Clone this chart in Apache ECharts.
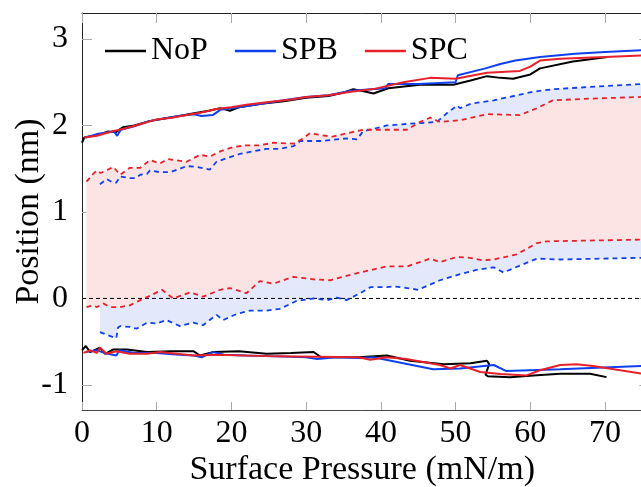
<!DOCTYPE html>
<html>
<head>
<meta charset="utf-8">
<script src="https://cdn.jsdelivr.net/npm/echarts@6/dist/echarts.min.js"></script>
<style>html,body{margin:0;padding:0;background:#fff;}#c{width:641px;height:487px;}</style>
</head>
<body>
<div id="c"></div>
<script>
var xTicks = [0,10,20,30,40,50,60,70];
var yTicks = [-1,0,1,2,3];
var zeroLine = [[0,0],[75,0]];

var nopUpper = [[0,1.80],[0.3,1.86],[1.5,1.88],[2.5,1.90],[3.5,1.93],[4.5,1.92],[5.5,1.98],[7,2.00],[9,2.05],[11,2.08],[13,2.11],[15,2.14],[17,2.17],[18.5,2.20],[19.8,2.17],[21,2.21],[24,2.25],[27,2.28],[30,2.32],[33,2.34],[35,2.38],[36.3,2.42],[38,2.39],[39,2.37],[41,2.43],[45.2,2.47],[49.7,2.47],[52,2.52],[54.2,2.57],[56,2.55],[57.7,2.54],[60,2.59],[61.3,2.66],[65.7,2.74],[70.3,2.79]];
var spbUpper = [[0.5,1.86],[2,1.90],[3.5,1.92],[4.3,1.93],[4.7,1.88],[5.2,1.95],[7,1.99],[9,2.05],[11,2.08],[13,2.11],[15,2.13],[16,2.11],[17.5,2.12],[18.5,2.18],[21,2.21],[24,2.25],[27,2.29],[30,2.33],[33,2.35],[36,2.40],[40.6,2.43],[41,2.48],[45,2.48],[50,2.50],[50.3,2.58],[54,2.66],[56,2.71],[58,2.75],[61.3,2.79],[66,2.83],[70,2.85],[75,2.87]];
var spcUpper = [[0.3,1.86],[2,1.88],[4,1.93],[6,1.97],[8,2.02],[10,2.07],[12,2.09],[14,2.12],[16,2.15],[18,2.19],[20,2.21],[22,2.24],[25,2.27],[28,2.30],[30,2.33],[33,2.35],[36,2.39],[39,2.42],[43,2.50],[46.6,2.55],[50,2.54],[54.2,2.61],[58.6,2.63],[60,2.68],[61.3,2.75],[64,2.77],[70,2.79],[75,2.81]];

var nopLower = [[0,-0.60],[0.5,-0.55],[1.1,-0.62],[2.4,-0.57],[3.1,-0.64],[4.2,-0.59],[6,-0.59],[8.7,-0.62],[12,-0.61],[14.9,-0.61],[15.8,-0.66],[17.6,-0.62],[21,-0.61],[24.7,-0.64],[28,-0.63],[31,-0.62],[32,-0.68],[37,-0.68],[40.8,-0.66],[43.9,-0.72],[48.4,-0.76],[52,-0.75],[54.2,-0.72],[54.5,-0.76],[54.0,-0.88],[54.3,-0.90],[57.3,-0.91],[60.4,-0.89],[64,-0.87],[68,-0.87],[70.2,-0.91]];
var spbLower = [[0.5,-0.62],[2,-0.60],[3,-0.63],[4.6,-0.66],[5,-0.60],[7,-0.63],[10,-0.63],[13,-0.65],[15,-0.66],[16,-0.68],[17.5,-0.62],[19,-0.65],[22,-0.66],[26,-0.67],[30,-0.68],[31.5,-0.70],[34,-0.68],[37,-0.69],[39,-0.68],[43,-0.75],[47,-0.82],[50.6,-0.81],[55.1,-0.77],[56.8,-0.84],[64,-0.82],[75,-0.78]];
var spcLower = [[0.2,-0.63],[1.1,-0.60],[2,-0.63],[2.4,-0.57],[3.3,-0.64],[4.6,-0.61],[6.4,-0.64],[8.7,-0.64],[10.5,-0.62],[14.9,-0.66],[18,-0.65],[26,-0.67],[37,-0.68],[38.6,-0.71],[40.8,-0.68],[43.4,-0.70],[47.9,-0.77],[49.3,-0.81],[50.6,-0.77],[53.3,-0.85],[56,-0.875],[59.5,-0.89],[61.3,-0.83],[64,-0.77],[66.2,-0.76],[68.4,-0.78],[75,-0.87]];

var spcDashUpper = [[0.6,1.35],[1.5,1.44],[2,1.48],[2.5,1.45],[4.2,1.52],[5.1,1.43],[6.4,1.51],[7.8,1.51],[9.1,1.60],[10.4,1.56],[11.5,1.61],[14,1.58],[15.8,1.66],[17.1,1.64],[18.5,1.70],[20.2,1.75],[22,1.77],[23.8,1.77],[25.6,1.80],[28.3,1.79],[29.2,1.83],[30.5,1.91],[31.9,1.89],[33.5,1.87],[35,1.90],[37.6,1.95],[43.5,1.95],[45.2,2.04],[46.6,2.09],[47.9,2.04],[50.6,2.06],[54.2,2.13],[58.6,2.12],[60.9,2.20],[63,2.29],[68,2.31],[75,2.33]];
var spcDashLower = [[0.6,-0.10],[1.5,-0.08],[2,-0.10],[2.9,-0.06],[3.7,-0.10],[5.1,-0.10],[6.4,-0.08],[7.8,-0.02],[9.1,0.03],[10.7,0.10],[12.2,0.0],[14.5,0.07],[16.2,0.02],[18.5,0.10],[19.8,0.12],[22,0.06],[23.8,0.20],[25.6,0.17],[28.3,0.25],[31,0.22],[33.2,0.21],[35.4,0.26],[37.2,0.30],[40.8,0.37],[43.5,0.37],[46.6,0.46],[47.9,0.42],[50.2,0.48],[51.9,0.47],[53.7,0.44],[55.1,0.45],[58.2,0.51],[60.9,0.64],[62.2,0.66],[75,0.68]];
var spbDashUpper = [[2.4,1.32],[3.3,1.38],[4.1,1.34],[4.6,1.34],[5.1,1.41],[6.4,1.39],[7.1,1.39],[7.8,1.43],[8.7,1.44],[9.1,1.48],[10.4,1.46],[11.8,1.46],[13.1,1.50],[14,1.53],[15.4,1.52],[17.1,1.49],[18,1.58],[19.3,1.62],[21.1,1.67],[22.9,1.70],[24.7,1.73],[26.5,1.73],[28.3,1.76],[29.2,1.82],[31.9,1.82],[35.4,1.85],[36.8,1.84],[37.6,1.93],[40.8,2.00],[43.9,2.02],[47.5,2.04],[48.8,2.14],[50.2,2.23],[50.6,2.20],[52,2.25],[55.1,2.29],[60.4,2.39],[63.1,2.42],[75,2.48]];
var spbDashLower = [[2.4,-0.39],[3.3,-0.42],[4.6,-0.46],[4.8,-0.34],[5.1,-0.32],[6.4,-0.33],[7.3,-0.35],[8.7,-0.28],[10,-0.29],[11.3,-0.25],[13.1,-0.32],[14.9,-0.28],[16.2,-0.31],[18,-0.19],[18.9,-0.25],[20.7,-0.18],[22.5,-0.14],[24.7,-0.14],[26.5,-0.12],[28.7,-0.03],[31,0.0],[32.8,-0.02],[34.1,0.01],[35.4,-0.02],[37.2,0.06],[38.6,0.13],[40.8,0.13],[41.7,0.14],[43.5,0.12],[45,0.10],[47.9,0.21],[50.6,0.28],[52.8,0.33],[55.1,0.36],[56.4,0.30],[58.6,0.38],[60.9,0.46],[64,0.45],[75,0.47]];

var FONT = 'Liberation Serif';
var BLACK = '#000000', BLUE = '#1040ee', RED = '#e8202a';
var PINK = '#fce4e4', LBLUE = '#e3e9fa';

function band(upper, lower, fill) {
  return {
    type: 'custom', silent: true, z: 1,
    data: upper,
    renderItem: function (params, api) {
      if (params.dataIndex !== 0) return null;
      var pts = [];
      for (var i = 0; i < upper.length; i++) pts.push(api.coord(upper[i]));
      for (var j = lower.length - 1; j >= 0; j--) pts.push(api.coord(lower[j]));
      return { type: 'polygon', shape: { points: pts }, style: { fill: fill, stroke: null } };
    }
  };
}
function solid(name, data, color) {
  return { type: 'line', name: name, data: data, color: color, showSymbol: false, symbol: 'none', z: 5,
    lineStyle: { color: color, width: 2 } };
}
function dashed(data, color) {
  return { type: 'line', data: data, showSymbol: false, symbol: 'none', z: 4,
    lineStyle: { color: color, width: 1.8, type: [5, 4] } };
}

var chart = echarts.init(document.getElementById('c'), null, { renderer: 'canvas' });
chart.setOption({
  animation: false,
  backgroundColor: '#ffffff',
  grid: { left: 82, top: 13, width: 560.4, height: 397, containLabel: false, outerBoundsMode: 'none' },
  legend: {
    data: ['NoP', 'SPB', 'SPC'], left: 100, top: 30, icon: 'rect', itemWidth: 41, itemHeight: 2.5,
    itemGap: 27, textStyle: { fontFamily: FONT, fontSize: 32, color: '#000' }
  },
  xAxis: [{
    type: 'value', min: 0, max: 75, position: 'bottom',
    axisLine: { show: true, onZero: false, lineStyle: { color: '#444', width: 1 } },
    axisTick: { show: true, inside: true, length: 8, customValues: xTicks, lineStyle: { color: '#aaa' } },
    axisLabel: { customValues: xTicks, fontFamily: FONT, fontSize: 32, color: '#000', margin: 8 },
    splitLine: { show: false },
    name: 'Surface Pressure (mN/m)', nameLocation: 'middle', nameGap: 43, nameMoveOverlap: false,
    nameTextStyle: { fontFamily: FONT, fontSize: 34, color: '#000' }
  }, {
    type: 'value', min: 0, max: 75, position: 'top',
    axisLine: { show: true, onZero: false, lineStyle: { color: '#222', width: 1 } },
    axisTick: { show: true, inside: true, length: 10, customValues: xTicks, lineStyle: { color: '#aaa' } },
    axisLabel: { show: false }, splitLine: { show: false }
  }],
  yAxis: [{
    type: 'value', min: -1.29, max: 3.3, position: 'left',
    axisLine: { show: true, onZero: false, lineStyle: { color: '#222', width: 1 } },
    axisTick: { show: true, inside: true, length: 10, customValues: yTicks, lineStyle: { color: '#aaa' } },
    axisLabel: { customValues: yTicks, fontFamily: FONT, fontSize: 32, color: '#000', margin: 14 },
    splitLine: { show: false },
    name: 'Position (nm)', nameLocation: 'middle', nameGap: 36, nameMoveOverlap: false,
    nameTextStyle: { fontFamily: FONT, fontSize: 34, color: '#000' }
  }, {
    type: 'value', min: -1.29, max: 3.3, position: 'right',
    axisLine: { show: false, onZero: false },
    axisTick: { show: true, inside: true, length: 3, customValues: yTicks, lineStyle: { color: '#aaa' } },
    axisLabel: { show: false }, splitLine: { show: false }
  }],
  series: [
    band(spbDashUpper, spbDashLower, LBLUE),
    band(spcDashUpper, spcDashLower, PINK),
    { type: 'line', data: zeroLine, showSymbol: false, symbol: 'none', z: 3,
      lineStyle: { color: '#000', width: 1, type: [4, 3] } },
    dashed(spbDashUpper, BLUE),
    dashed(spbDashLower, BLUE),
    dashed(spcDashUpper, RED),
    dashed(spcDashLower, RED),
    solid('NoP', nopUpper, BLACK),
    solid('NoP', nopLower, BLACK),
    solid('SPB', spbUpper, BLUE),
    solid('SPB', spbLower, BLUE),
    solid('SPC', spcUpper, RED),
    solid('SPC', spcLower, RED)
  ]
});
</script>
</body>
</html>
